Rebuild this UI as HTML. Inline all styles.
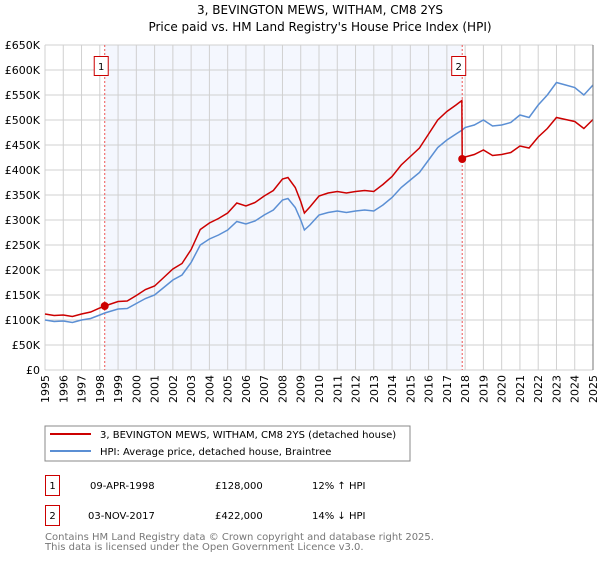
<!DOCTYPE html>
<html><head><meta charset="utf-8"><style>
body{margin:0;background:#fff;font-family:"DejaVu Sans","Liberation Sans",sans-serif;}
svg text{font-family:"DejaVu Sans","Liberation Sans",sans-serif;}
</style></head><body>
<svg id="c" width="600" height="560" xmlns="http://www.w3.org/2000/svg">
<text x="320" y="14" text-anchor="middle" font-size="12">3, BEVINGTON MEWS, WITHAM, CM8 2YS</text>
<text x="320" y="31" text-anchor="middle" font-size="12">Price paid vs. HM Land Registry's House Price Index (HPI)</text>
<g id="plot"></g>
<g>
<rect x="45" y="426" width="365" height="35" fill="#fff" stroke="#888"/>
<line x1="50" y1="434" x2="91" y2="434" stroke="#cc0000" stroke-width="2"/>
<text x="100" y="438" font-size="10">3, BEVINGTON MEWS, WITHAM, CM8 2YS (detached house)</text>
<line x1="50" y1="451" x2="91" y2="451" stroke="#5b8fd4" stroke-width="2"/>
<text x="100" y="455" font-size="10">HPI: Average price, detached house, Braintree</text>
</g>
<g font-size="10">
<rect x="45.5" y="475.5" width="14" height="20" fill="#fff" stroke="#cc0000"/>
<text x="52.5" y="489" text-anchor="middle">1</text>
<text x="90" y="489">09-APR-1998</text>
<text x="215" y="489">£128,000</text>
<text x="312" y="489">12% ↑ HPI</text>
<rect x="45.5" y="505.5" width="14" height="20" fill="#fff" stroke="#cc0000"/>
<text x="52.5" y="519" text-anchor="middle">2</text>
<text x="88" y="519">03-NOV-2017</text>
<text x="215" y="519">£422,000</text>
<text x="312" y="519">14% ↓ HPI</text>
</g>
<text x="45" y="540" font-size="10" fill="#777">Contains HM Land Registry data © Crown copyright and database right 2025.</text>
<text x="45" y="550" font-size="10" fill="#777">This data is licensed under the Open Government Licence v3.0.</text>
</svg>
<script>
const hpiYears=[1995,1995.5,1996,1996.5,1997,1997.5,1998,1998.27,1999,1999.5,2000,2000.5,2001,2001.5,2002,2002.5,2003,2003.5,2004,2004.5,2005,2005.5,2006,2006.5,2007,2007.5,2008,2008.3,2008.7,2009,2009.2,2009.5,2010,2010.5,2011,2011.5,2012,2012.5,2013,2013.5,2014,2014.5,2015,2015.5,2016,2016.5,2017,2017.5,2017.84,2018,2018.5,2019,2019.5,2020,2020.5,2021,2021.5,2022,2022.5,2023,2023.5,2024,2024.5,2025];
const hpiValues=[100,97,98,95,100,103,110,114,122,123,133,143,150,165,180,190,215,250,262,270,280,297,292,298,310,320,340,343,325,300,280,290,310,315,318,315,318,320,318,330,345,365,380,395,420,445,460,472,480,485,490,500,488,490,495,510,505,530,550,575,570,565,550,570];
const priceYears=[1995,1995.5,1996,1996.5,1997,1997.5,1998,1998.27,1999,1999.5,2000,2000.5,2001,2001.5,2002,2002.5,2003,2003.5,2004,2004.5,2005,2005.5,2006,2006.5,2007,2007.5,2008,2008.3,2008.7,2009,2009.2,2009.5,2010,2010.5,2011,2011.5,2012,2012.5,2013,2013.5,2014,2014.5,2015,2015.5,2016,2016.5,2017,2017.5,2017.82,2017.84,2018,2018.5,2019,2019.5,2020,2020.5,2021,2021.5,2022,2022.5,2023,2023.5,2024,2024.5,2025];
const priceValues=[112,109,110,107,112,116,124,128,137,138,149,161,168,185,202,213,241,281,294,303,314,334,328,335,348,359,382,385,365,337,314,326,348,354,357,354,357,359,357,371,387,410,427,444,472,500,517,530,539,422,426,431,440,429,431,435,448,444,466,483,505,501,497,483,501];
const saleYears=[1998.27,2017.84];
const saleValues=[128,422];
const saleLabels=["1","2"];
const yTicks=[0,50,100,150,200,250,300,350,400,450,500,550,600,650];
const yTickLabels=["£0","£50K","£100K","£150K","£200K","£250K","£300K","£350K","£400K","£450K","£500K","£550K","£600K","£650K"];
const xTicks=[1995,1996,1997,1998,1999,2000,2001,2002,2003,2004,2005,2006,2007,2008,2009,2010,2011,2012,2013,2014,2015,2016,2017,2018,2019,2020,2021,2022,2023,2024,2025];

const L=45,R=593,T=45,B=370;
const xs=y=>L+(y-1995)/30*(R-L);
const ys=v=>B-v/650*(B-T);
const NS="http://www.w3.org/2000/svg";
const g=document.getElementById('plot');
function mk(tag,attrs){const e=document.createElementNS(NS,tag);for(const k in attrs)e.setAttribute(k,attrs[k]);g.appendChild(e);return e;}
let e=mk('rect',{x:xs(saleYears[0]),y:T,width:xs(saleYears[1])-xs(saleYears[0]),height:B-T,fill:'#f4f7fe'});


yTicks.forEach((v,i)=>{
 let l=mk('line',{x1:L,x2:R,y1:ys(v),y2:ys(v),stroke:'#d0d0d0','stroke-width':1});
 
 
 let t=mk('text',{x:L-5,y:ys(v)+4,'text-anchor':'end','font-size':11});
 t.textContent=yTickLabels[i];
 
 
});
xTicks.forEach(y=>{
 let l=mk('line',{x1:xs(y),x2:xs(y),y1:T,y2:B,stroke:'#d0d0d0','stroke-width':1});
 
 
 let t=mk('text',{x:0,y:0,'text-anchor':'end','font-size':11,transform:`translate(${xs(y)+4},${B+5}) rotate(-90)`});
 t.textContent=String(y);
 
 
});
saleYears.forEach((y,i)=>{
 let l=mk('line',{x1:xs(y),x2:xs(y),y1:T,y2:B,stroke:'#e55','stroke-width':1,'stroke-dasharray':'2,2'});
 
 
 let r=mk('rect',{x:xs(y)-10.5,y:56.5,width:14,height:19,fill:'#fff',stroke:'#cc0000'});
 
 
 let t=mk('text',{x:xs(y)-3.5,y:70,'text-anchor':'middle','font-size':10});
 t.textContent=saleLabels[i];
 
 
});
let hp=mk('polyline',{points:hpiYears.map((y,i)=>xs(y)+','+ys(hpiValues[i])).join(' '),fill:'none',stroke:'#5b8fd4','stroke-width':1.5});


let pp=mk('polyline',{points:priceYears.map((y,i)=>xs(y)+','+ys(priceValues[i])).join(' '),fill:'none',stroke:'#cc0000','stroke-width':1.5});


saleYears.forEach((y,i)=>{
 let c=mk('circle',{cx:xs(y),cy:ys(saleValues[i]),r:4,fill:'#cc0000'});
 
 
});
let ax=mk('line',{x1:R,x2:R,y1:T,y2:B,stroke:'#777','stroke-width':1});


</script>
</body></html>
